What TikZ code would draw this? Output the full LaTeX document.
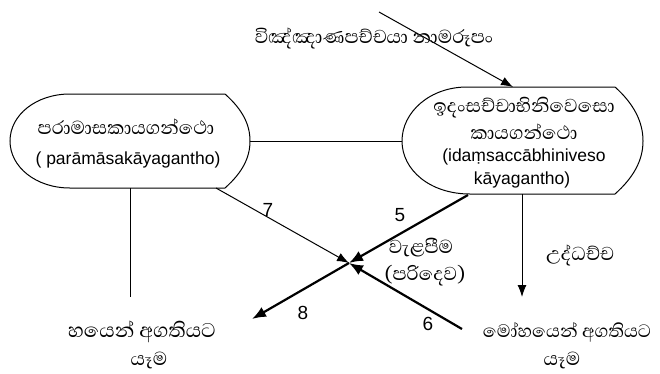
\documentclass[tikz,border=0pt]{standalone}
\usepackage{fontspec}
\setmainfont{Liberation Sans}
\newfontfamily\sinhalafnt[Script=Sinhala]{Abhaya Libre}
\usetikzlibrary{arrows.meta}
\begin{document}
\begin{tikzpicture}[x=1pt,y=-1pt,
  outline/.style={draw,line width=1pt},
  plain/.style={line width=1pt},
  thinarr/.style={line width=1pt,-{Latex[length=12pt,width=9pt]}},
  thickarr/.style={line width=2.2pt,-{Latex[length=14pt,width=11pt]}},
  lat/.style={font=\fontsize{17.5}{19}\selectfont,inner sep=0pt},
  num/.style={font=\fontsize{19}{21}\selectfont,inner sep=0pt},
  sin/.style={font=\sinhalafnt\fontsize{24}{26}\selectfont,inner sep=0pt}]
\useasboundingbox[fill=white] (0,0) rectangle (660,373);
% shapes
\draw[outline] (70,94) -- (225,94) .. controls (243,110) and (250,125) .. (250,141)
  .. controls (250,157) and (243,172) .. (225,188) -- (70,188)
  .. controls (36,188) and (10,167) .. (10,141) .. controls (10,115) and (36,94) .. (70,94) -- cycle;
\draw[outline] (467,87) -- (615,87) .. controls (634,104) and (643,122) .. (643,141)
  .. controls (643,160) and (634,177) .. (615,194) -- (470,194)
  .. controls (430,194) and (402,170) .. (402,141) .. controls (402,112) and (430,87) .. (467,87) -- cycle;
% anchor coordinates
\coordinate (Lr) at (250,141);
\coordinate (Rl) at (402,141);
\coordinate (Lb) at (130,188);
\coordinate (Lbr) at (216,188);
\coordinate (Rbl) at (468,195);
\coordinate (Rb) at (522,194);
\coordinate (Rt) at (513,87);
\coordinate (S) at (379,12);
\coordinate (X) at (349,263);
\coordinate (E8) at (252,319);
\coordinate (S6) at (462,329);
\coordinate (Lend) at (130,297);
\coordinate (Rend) at (522,297);
% texts
\node[sin] (t0) at (374,38) {විඤ්ඤාණපච්චයා නාමරූපං};
\node[sin] (l1) at (126,127) {පරාමාසකායගන්ථො};
\node[lat] (l2) at (128,160) {( parāmāsakāyagantho)};
\node[sin] (r1) at (524,108) {ඉදංසච්චාභිනිවෙසො};
\node[sin] (r2) at (524,132) {කායගන්ථො};
\node[lat] (r3) at (524,157) {(idaṃsaccābhiniveso};
\node[lat] (r4) at (522,180) {kāyagantho)};
\node[sin] (v1) at (421,248) {වැළපීම};
\node[sin] (v2) at (425,276) {(පරිදෙව)};
\node[sin] (u) at (580,255) {උද්ධච්ච};
\node[sin,font=\sinhalafnt\fontsize{25.5}{27}\selectfont] (b1) at (142,332) {හයෙන් අගතියට};
\node[sin] (b2) at (149,360) {යෑම};
\node[sin,font=\sinhalafnt\fontsize{23}{25}\selectfont] (m1) at (567,332) {මෝහයෙන් අගතියට};
\node[sin] (m2) at (562,360) {යෑම};
\node[num] (n7) at (268,210) {7};
\node[num] (n5) at (400,215) {5};
\node[num] (n8) at (303,313) {8};
\node[num] (n6) at (428,324) {6};
% connectors
\draw[plain] (Lr) -- (Rl);
\draw[thinarr] (S) -- (Rt);
\draw[plain] (Lb) -- (Lend);
\draw[thinarr] (Rb) -- (Rend);
\draw[thinarr] (Lbr) -- (X);
\draw[thickarr] (Rbl) -- (X);
\draw[thickarr] (S6) -- (X);
\draw[thickarr] (X) -- (E8);
\end{tikzpicture}
\end{document}
